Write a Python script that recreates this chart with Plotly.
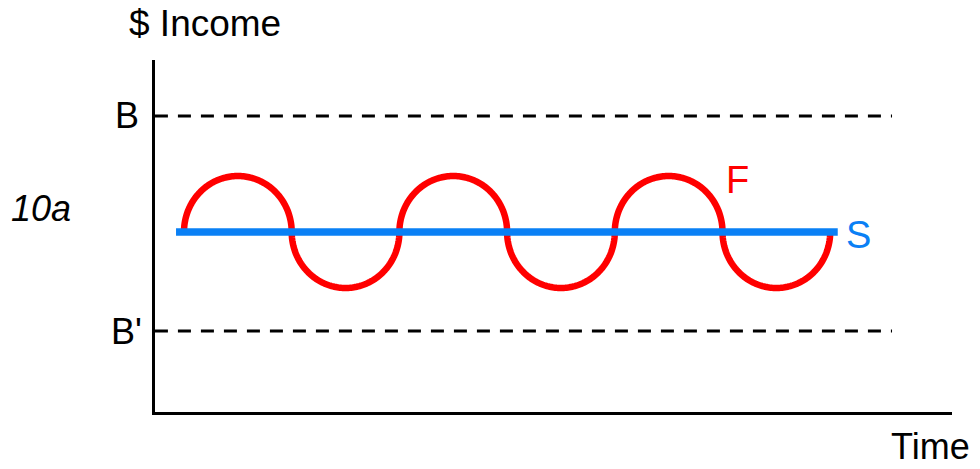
import numpy as np
import plotly.graph_objects as go

# ---- data (time in half-cycle units, income relative to the S level) ----
lobe_starts = [0, 1, 2, 3, 4, 5]          # start of each half-cycle of F
lobe_signs = [1, -1, 1, -1, 1, -1]         # above / below S
lobe_width = 1.0
lobe_amp = 1.0
s_level = 0.0
s_time = [-0.074, 6.07]
b_level = 2.07
b_prime_level = -1.77
band_time = [-0.27, 6.574]

FONT = "Liberation Sans, Arial, Helvetica, sans-serif"

# build F curve from the half-cycle arcs
fx, fy = [], []
theta = np.linspace(np.pi, 0, 121)
for st, sg in zip(lobe_starts, lobe_signs):
    cx = st + lobe_width / 2
    fx.extend(cx + (lobe_width / 2) * np.cos(theta))
    fy.extend(s_level + sg * lobe_amp * np.sin(theta))

fig = go.Figure()
for lvl in (b_level, b_prime_level):
    fig.add_trace(go.Scatter(x=band_time, y=[lvl, lvl], mode="lines",
                             line=dict(color="black", width=3, dash="13px,10px"),
                             hoverinfo="skip", showlegend=False))
fig.add_trace(go.Scatter(x=fx, y=fy, mode="lines",
                         line=dict(color="#FF0000", width=6.5, simplify=False),
                         hoverinfo="skip", showlegend=False))
fig.add_trace(go.Scatter(x=s_time, y=[s_level, s_level], mode="lines",
                         line=dict(color="#0A80F5", width=7.5),
                         hoverinfo="skip", showlegend=False))

L, R, T, B = 155, 952, 60, 412   # plot area in screen pixels
W, H = 980, 469

def px(x):
    return (x - L) / (R - L)

def py(y):
    return (B - y) / (B - T)

def ann(text, x, y, size, color="black", xanchor="left", italic=False):
    fig.add_annotation(text=f"<i>{text}</i>" if italic else text,
                       xref="paper", yref="paper", x=px(x), y=py(y),
                       xanchor=xanchor, yanchor="middle", showarrow=False,
                       borderpad=0,
                       font=dict(family=FONT, size=size, color=color))

ann("$ Income", 128, 24, 37)
ann("B", 140, 116, 36, xanchor="right")
ann("B'", 143, 331, 36, xanchor="right")
ann("10a", 10, 208, 36, italic=True)
ann("F", 725, 180, 38, color="#FF0000")
ann("S", 845, 235, 38, color="#0A80F5")
ann("Time", 890, 446, 36)

fig.update_xaxes(range=[(L - 184) / 107.7, (R - 184) / 107.7],
                 showline=True, linecolor="black", linewidth=3,
                 showgrid=False, zeroline=False, showticklabels=False, ticks="")
fig.update_yaxes(range=[(232 - B) / 56, (232 - T) / 56],
                 showline=True, linecolor="black", linewidth=3,
                 showgrid=False, zeroline=False, showticklabels=False, ticks="")
fig.update_layout(width=W, height=H,
                  margin=dict(l=L, r=W - R, t=T, b=H - B),
                  plot_bgcolor="white", paper_bgcolor="white",
                  font=dict(family=FONT))
fig.write_html("out.html", config={"displayModeBar": False},
               post_script="document.body.style.margin='0';document.body.style.overflow='hidden';")
